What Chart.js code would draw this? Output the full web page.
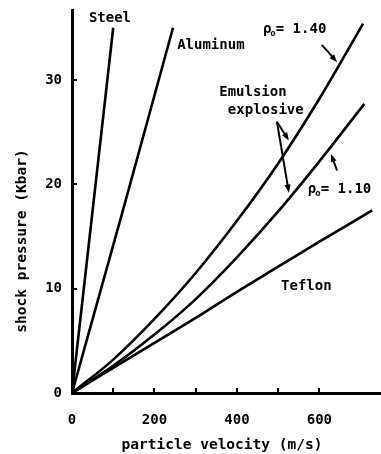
<!DOCTYPE html>
<html>
<head>
<meta charset="utf-8">
<script src="https://cdn.jsdelivr.net/npm/chart.js@4/dist/chart.umd.min.js"></script>
<style>
  body { margin: 0; background: #fff; }
  canvas { display: block; }
</style>
</head>
<body>
<canvas id="hugoniot" width="381" height="454"></canvas>
<script>
// particle velocity (m/s) and shock pressure (Kbar)
var steelU = [0, 100];
var steelP = [0, 35.0];
var aluminumU = [0, 120, 245];
var aluminumP = [0, 17.0, 35.0];
var emulsion140U = [0, 100, 200, 300, 400, 500, 600, 706];
var emulsion140P = [0, 3.2, 7.1, 11.5, 16.5, 22.0, 28.2, 35.4];
var emulsion110U = [0, 100, 200, 300, 400, 500, 600, 709];
var emulsion110P = [0, 2.6, 5.6, 9.0, 13.0, 17.4, 22.2, 27.7];
var teflonU = [0, 100, 200, 300, 400, 500, 600, 728];
var teflonP = [0, 2.4, 4.8, 7.2, 9.7, 12.1, 14.5, 17.5];

var xTicks = [0, 200, 400, 600];
var yTicks = [0, 10, 20, 30];

var FONT = '"DejaVu Sans Mono", "Liberation Mono", monospace';

function pts(u, p) {
  var out = [];
  for (var i = 0; i < u.length; i++) out.push({ x: u[i], y: p[i] });
  return out;
}

function curve(u, p) {
  return {
    data: pts(u, p),
    borderColor: '#000',
    borderWidth: 2.6,
    pointRadius: 0,
    fill: false,
    cubicInterpolationMode: 'monotone'
  };
}

function arrow(ctx, x1, y1, x2, y2) {
  var a = Math.atan2(y2 - y1, x2 - x1);
  ctx.beginPath();
  ctx.moveTo(x1, y1);
  ctx.lineTo(x2 - 4 * Math.cos(a), y2 - 4 * Math.sin(a));
  ctx.stroke();
  ctx.beginPath();
  ctx.moveTo(x2, y2);
  ctx.lineTo(x2 - 8 * Math.cos(a) + 3 * Math.sin(a), y2 - 8 * Math.sin(a) - 3 * Math.cos(a));
  ctx.lineTo(x2 - 8 * Math.cos(a) - 3 * Math.sin(a), y2 - 8 * Math.sin(a) + 3 * Math.cos(a));
  ctx.closePath();
  ctx.fill();
}

function rhoLabel(ctx, value, x, y) {
  ctx.font = 'bold 14px ' + FONT;
  ctx.fillText('\u03C1', x, y);
  var w = ctx.measureText('\u03C1').width;
  ctx.font = 'bold 9px ' + FONT;
  ctx.fillText('o', x + w - 1, y + 4);
  var w2 = ctx.measureText('o').width;
  ctx.font = 'bold 14px ' + FONT;
  ctx.fillText('= ' + value, x + w + w2 - 1, y);
}

var decorations = {
  id: 'decorations',
  afterDatasetsDraw: function (chart) {
    var ctx = chart.ctx;
    var xs = chart.scales.x;
    var ys = chart.scales.y;
    var area = chart.chartArea;
    var X = function (v) { return xs.getPixelForValue(v); };
    var Y = function (v) { return ys.getPixelForValue(v); };

    ctx.save();
    ctx.strokeStyle = '#000';
    ctx.fillStyle = '#000';

    // inward tick marks
    ctx.lineWidth = 2;
    xs.ticks.forEach(function (t) {
      if (t.value === 0 || t.value % 100 !== 0) return;
      var px = Math.round(X(t.value));
      ctx.beginPath();
      ctx.moveTo(px, area.bottom);
      ctx.lineTo(px, area.bottom - 5);
      ctx.stroke();
    });
    ys.ticks.forEach(function (t) {
      if (t.value === 0 || t.value % 10 !== 0) return;
      var py = Math.round(Y(t.value));
      ctx.beginPath();
      ctx.moveTo(area.left, py);
      ctx.lineTo(area.left + 5, py);
      ctx.stroke();
    });

    // curve labels
    ctx.textAlign = 'left';
    ctx.textBaseline = 'middle';
    ctx.font = 'bold 14px ' + FONT;
    ctx.fillText('Steel', X(41), Y(35.9));
    ctx.fillText('Aluminum', X(255), Y(33.3));
    ctx.fillText('Emulsion', X(357), Y(28.8));
    ctx.fillText('explosive', X(378), Y(27.1));
    ctx.fillText('Teflon', X(507), Y(10.25));
    rhoLabel(ctx, '1.40', X(463), Y(34.8));
    rhoLabel(ctx, '1.10', X(572), Y(19.5));

    // pointer arrows
    ctx.lineWidth = 2;
    arrow(ctx, X(606), Y(33.35), X(643), Y(31.7));
    arrow(ctx, X(497), Y(26.0), X(526), Y(24.2));
    arrow(ctx, X(497), Y(26.0), X(526), Y(19.2));
    arrow(ctx, X(643), Y(21.3), X(628), Y(22.9));

    // axis titles
    ctx.font = 'bold 14.5px ' + FONT;
    ctx.textAlign = 'center';
    ctx.fillText('particle velocity (m/s)', 222, 445);
    ctx.translate(22, 241);
    ctx.rotate(-Math.PI / 2);
    ctx.fillText('shock pressure (Kbar)', 0, 0);
    ctx.restore();
  }
};

var tickFont = { family: FONT, size: 14, weight: 'bold' };

new Chart(document.getElementById('hugoniot'), {
  type: 'scatter',
  data: {
    datasets: [
      curve(steelU, steelP),
      curve(aluminumU, aluminumP),
      curve(emulsion140U, emulsion140P),
      curve(emulsion110U, emulsion110P),
      curve(teflonU, teflonP)
    ]
  },
  options: {
    responsive: false,
    animation: false,
    showLine: true,
    layout: { padding: { top: 10, right: 1, left: 0, bottom: 0 } },
    plugins: { legend: { display: false }, tooltip: { enabled: false } },
    scales: {
      x: {
        type: 'linear',
        min: 0,
        max: 747,
        border: { color: '#000', width: 3 },
        grid: { display: false, drawTicks: false },
        ticks: {
          stepSize: 100,
          autoSkip: false,
          maxRotation: 0,
          padding: 19,
          color: '#000',
          font: tickFont,
          callback: function (v) { return xTicks.indexOf(v) >= 0 ? String(v) : ''; }
        },
        afterFit: function (s) { s.height = 61; s.paddingLeft = 0; s.paddingRight = 0; }
      },
      y: {
        type: 'linear',
        min: 0,
        max: 36.7,
        border: { color: '#000', width: 3 },
        grid: { display: false, drawTicks: false },
        ticks: {
          stepSize: 10,
          autoSkip: false,
          padding: 10,
          color: '#000',
          font: tickFont,
          callback: function (v) { return yTicks.indexOf(v) >= 0 ? String(v) : ''; }
        },
        afterFit: function (s) { s.width = 72; s.paddingTop = 0; s.paddingBottom = 0; }
      }
    }
  },
  plugins: [decorations]
});
</script>
</body>
</html>
